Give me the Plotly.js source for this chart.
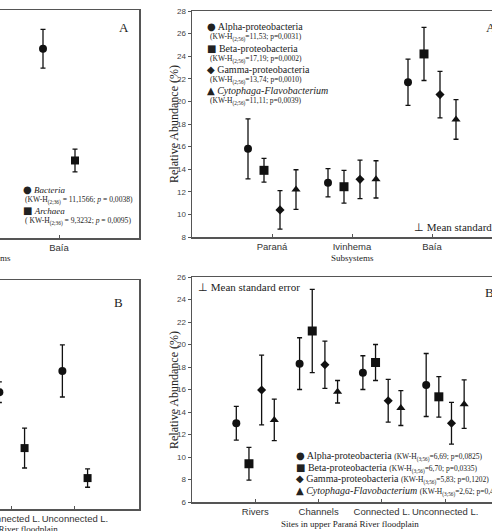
<!DOCTYPE html>
<html><head><meta charset="utf-8">
<script src="https://cdn.plot.ly/plotly-3.0.1.min.js"></script>
<style>html,body{margin:0;padding:0;background:#fff}#chart{width:492px;height:531px}</style>
</head><body><div id="chart"></div>
<script>
// ---------- DATA ----------
// Panel A (right): relative abundance per subsystem
const subsystems = ["Paraná", "Ivinhema", "Baía"];
const alphaSub = [15.8, 12.8, 21.7];
const alphaSubErr = [2.65, 1.25, 2.05];
const betaSub = [13.9, 12.45, 24.2];
const betaSubErr = [1.05, 1.45, 2.35];
const gammaSub = [10.4, 13.1, 20.6];
const gammaSubErr = [1.7, 1.7, 2.05];
const cytoSub = [12.2, 13.1, 18.4];
const cytoSubErr = [1.75, 1.65, 1.75];

// Panel B (right): relative abundance per site type
const sites = ["Rivers", "Channels", "Connected L.", "Unconnected L."];
const alphaSite = [13.0, 18.3, 17.5, 16.4];
const alphaSiteErr = [1.5, 2.3, 1.5, 2.8];
const betaSite = [9.4, 21.2, 18.4, 15.35];
const betaSiteErr = [1.45, 3.7, 1.6, 1.8];
const gammaSite = [15.95, 18.2, 15.0, 13.0];
const gammaSiteErr = [3.1, 2.1, 1.9, 1.85];
const cytoSite = [13.3, 15.8, 14.35, 14.7];
const cytoSiteErr = [1.85, 1.0, 1.55, 2.15];

// Left panels (only partly visible in the crop)
const domainSubCats = ["Baía"];
const bacteriaSub = [83];
const bacteriaSubErr = [8.5];
const archaeaSub = [34];
const archaeaSubErr = [5];
const domainSiteCats = ["Connected L.", "Unconnected L."];
const bacteriaSite = [51, 60.3];
const bacteriaSiteErr = [4.5, 11.4];
const archaeaSite = [26.6, 13.5];
const archaeaSiteErr = [8.7, 4];

// ---------- HELPERS ----------
const W = 492, H = 531;
const PX = p => p / W, PY = p => 1 - p / H;
const INK = '#111';
function tr(cats, allCats, vals, errs, off, symbol, size, xa, ya) {
  return {
    type: 'scatter', mode: 'markers',
    x: cats.map(c => allCats.indexOf(c) + off), y: vals,
    error_y: {type: 'data', array: errs, visible: true, color: INK, thickness: 1.3, width: 2.5},
    marker: {symbol: symbol, size: size, color: INK},
    xaxis: xa, yaxis: ya, showlegend: false, hoverinfo: 'skip'
  };
}
const offs4 = [-0.3, -0.1, 0.1, 0.3];
const data = [
  tr(domainSubCats, subsystems, bacteriaSub, bacteriaSubErr, -0.2, 'circle', 8, 'x', 'y'),
  tr(domainSubCats, subsystems, archaeaSub, archaeaSubErr, 0.2, 'square', 8, 'x', 'y'),
  tr(subsystems, subsystems, alphaSub, alphaSubErr, offs4[0], 'circle', 8, 'x2', 'y2'),
  tr(subsystems, subsystems, betaSub, betaSubErr, offs4[1], 'square', 9, 'x2', 'y2'),
  tr(subsystems, subsystems, gammaSub, gammaSubErr, offs4[2], 'diamond', 7, 'x2', 'y2'),
  tr(subsystems, subsystems, cytoSub, cytoSubErr, offs4[3], 'triangle-up', 8, 'x2', 'y2'),
  tr(domainSiteCats, sites, bacteriaSite, bacteriaSiteErr, -0.2, 'circle', 8, 'x3', 'y3'),
  tr(domainSiteCats, sites, archaeaSite, archaeaSiteErr, 0.2, 'square', 8, 'x3', 'y3'),
  tr(sites, sites, alphaSite, alphaSiteErr, offs4[0], 'circle', 8, 'x4', 'y4'),
  tr(sites, sites, betaSite, betaSiteErr, offs4[1], 'square', 9, 'x4', 'y4'),
  tr(sites, sites, gammaSite, gammaSiteErr, offs4[2], 'diamond', 7, 'x4', 'y4'),
  tr(sites, sites, cytoSite, cytoSiteErr, offs4[3], 'triangle-up', 8, 'x4', 'y4')
];

const LINE = '#555';
const xBase = {
  showline: true, mirror: true, linecolor: LINE, linewidth: 1.5,
  ticks: 'inside', ticklen: 3, tickcolor: LINE, showgrid: false, zeroline: false,
  tickangle: 0,
  tickfont: {family: 'Liberation Sans, Arial', size: 9.5, color: '#333'},
  ticklabeloverflow: 'allow', automargin: false, fixedrange: true
};
const yHidden = {
  side: 'right', showline: true, linecolor: LINE, linewidth: 1.5, showticklabels: false,
  ticks: '', showgrid: false, zeroline: false, automargin: false, range: [0, 100]
};
const yShown = {
  showline: true, linecolor: LINE, linewidth: 1.5, ticks: 'outside', ticklen: 3, tickcolor: LINE,
  dtick: 2, showgrid: false, zeroline: false, automargin: false,
  tickfont: {family: 'Liberation Sans, Arial', size: 8, color: '#444'}
};

const SERIF = 'Liberation Serif, Times New Roman, serif';
function ann(px, py, text, size, opts) {
  return Object.assign({
    xref: 'paper', yref: 'paper', x: PX(px), y: PY(py), text: text, showarrow: false,
    xanchor: 'left', yanchor: 'middle', font: {family: SERIF, size: size, color: '#222'}
  }, opts || {});
}
const g = s => `<span style="font-family:DejaVu Sans;font-size:10px">${s}</span>`;
const kw = (h, v, p) => `(KW-H<sub>${h}</sub>=${v}; p=${p})`;
const sm = s => `<span style="font-size:7.5px">${s}</span>`;
const annotations = [
  // panel letters
  ann(124, 28, 'A', 13, {xanchor: 'center'}),
  ann(484, 28, 'A', 13),
  ann(118, 302, 'B', 13, {xanchor: 'center'}),
  ann(483, 292, 'B', 13),
  // top-left legend
  ann(21, 190, g('●') + ' <i>Bacteria</i>', 9),
  ann(23, 201, '(KW-H<sub>(2;36)</sub> = 11,1566; <i>p</i> = 0,0038)', 7.6),
  ann(21, 211, g('■') + ' <i>Archaea</i>', 9),
  ann(23, 222, '( KW-H<sub>(2;36)</sub> = 9,3232; <i>p</i> = 0,0095)', 7.6),
  // top-right legend
  ann(205, 27, g('●') + ' Alpha-proteobacteria', 10),
  ann(208, 38, kw('(2;56)', '11,53', '0,0031'), 7.5),
  ann(205, 48, g('■') + ' Beta-proteobacteria', 10),
  ann(208, 59, kw('(2;56)', '17,19', '0,0002'), 7.5),
  ann(205, 69, g('◆') + ' Gamma-proteobacteria', 10),
  ann(208, 80, kw('(2;56)', '13,74', '0,0010'), 7.5),
  ann(205, 90, g('▲') + ' <i>Cytophaga-Flavobacterium</i>', 10),
  ann(208, 101, kw('(2;56)', '11,11', '0,0039'), 7.5),
  // bottom-right legend
  ann(294, 456, g('●') + ' Alpha-proteobacteria ' + sm(kw('(3;56)', '6,69', '0,0825')), 10),
  ann(294, 468, g('■') + ' Beta-proteobacteria ' + sm(kw('(3;56)', '6,70', '0,0335')), 10),
  ann(294, 479, g('◆') + ' Gamma-proteobacteria ' + sm(kw('(3;56)', '5,83', '0,1202')), 10),
  ann(294, 491, g('▲') + ' <i>Cytophaga-Flavobacterium</i> ' + sm(kw('(3;56)', '2,62', '0,4537')), 10),
  // mean standard error keys
  ann(412, 227, '⊥ Mean standard error', 11),
  ann(196, 287, '⊥ Mean standard error', 11),
  // axis titles
  ann(174, 124, 'Relative Abundance (%)', 12, {xanchor: 'center', textangle: -90}),
  ann(174, 390, 'Relative Abundance (%)', 12, {xanchor: 'center', textangle: -90}),
  ann(352, 258, 'Subsystems', 9, {xanchor: 'center'}),
  ann(13, 258, 'Subsystems', 9, {xanchor: 'right'}),
  ann(350, 524, 'Sites in upper Paraná River floodplain', 9, {xanchor: 'center'}),
  ann(60, 529, 'Sites in upper Paraná River floodplain', 9, {xanchor: 'right'})
];

const layout = {
  width: W, height: H, margin: {l: 0, r: 0, t: 0, b: 0, pad: 0},
  paper_bgcolor: '#fff', plot_bgcolor: '#fff', showlegend: false,
  xaxis: Object.assign({}, xBase, {domain: [0, PX(139)], range: [1.2625, 3.0], tickvals: [0, 1, 2], ticktext: subsystems, anchor: 'y'}),
  yaxis: Object.assign({}, yHidden, {domain: [PY(238), PY(10)], anchor: 'x'}),
  xaxis2: Object.assign({}, xBase, {domain: [PX(192), 1], range: [-1, 2.75], tickvals: [0, 1, 2], ticktext: subsystems, anchor: 'y2'}),
  yaxis2: Object.assign({}, yShown, {domain: [PY(237), PY(11)], range: [8, 28], anchor: 'x2'}),
  xaxis3: Object.assign({}, xBase, {domain: [0, PX(139)], range: [1.81, 4.016], tickvals: [0, 1, 2, 3], ticktext: sites, anchor: 'y3'}),
  yaxis3: Object.assign({}, yHidden, {domain: [PY(509), PY(280)], anchor: 'x3'}),
  xaxis4: Object.assign({}, xBase, {domain: [PX(192), 1], range: [-1, 3.74], tickvals: [0, 1, 2, 3], ticktext: sites, anchor: 'y4'}),
  yaxis4: Object.assign({}, yShown, {domain: [PY(502), PY(277)], range: [6, 26], anchor: 'x4'}),
  annotations: annotations
};
Plotly.newPlot('chart', data, layout, {staticPlot: true, displayModeBar: false});
</script>
</body></html>
